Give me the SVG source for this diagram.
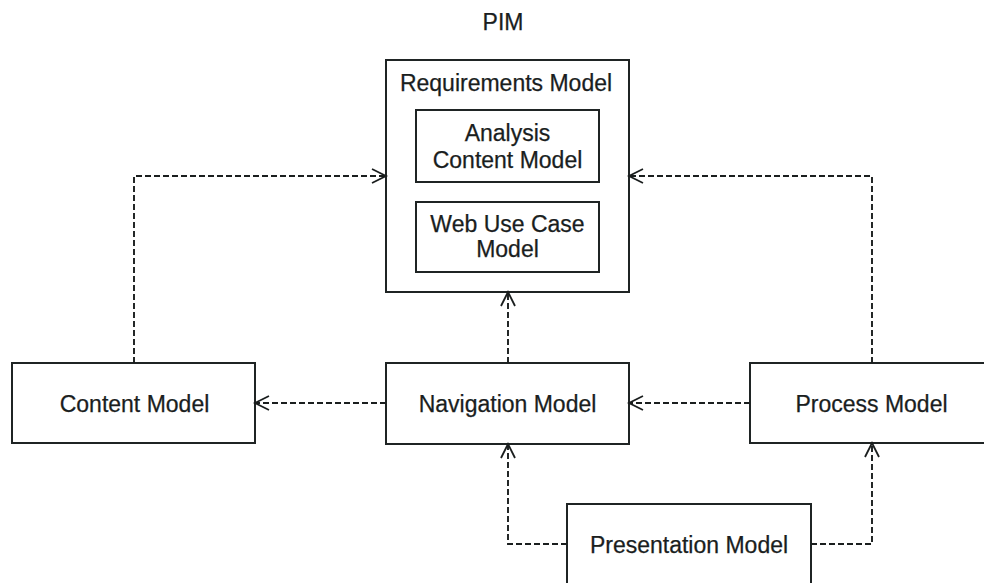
<svg xmlns="http://www.w3.org/2000/svg" width="984" height="583" viewBox="0 0 984 583">
  <style>
    .box { fill: #ffffff; stroke: #1f2424; stroke-width: 2; }
    .lbl { font-family: "Liberation Sans", Arial, sans-serif; font-size: 23px; fill: #1a1e1e; text-anchor: middle; stroke: #1a1e1e; stroke-width: 0.25; }
    .dep { fill: none; stroke: #1a1e1e; stroke-width: 1.9; stroke-dasharray: 6 3; marker-end: url(#open); }
  </style>
  <defs>
    <marker id="open" markerUnits="userSpaceOnUse" markerWidth="18" markerHeight="18" refX="15" refY="8" orient="auto" overflow="visible">
      <path d="M1,1 L15,8 L1,15" fill="none" stroke="#1a1e1e" stroke-width="1.8" stroke-dasharray="none"/>
    </marker>
  </defs>

  <rect width="984" height="583" fill="#ffffff"/>

  <text class="lbl" x="503" y="29.5">PIM</text>

  <g id="requirements-model">
    <rect class="box" x="386" y="60" width="243" height="232"/>
    <text class="lbl" x="506" y="91">Requirements Model</text>
    <g id="analysis-content-model">
      <rect class="box" x="416" y="110" width="183" height="72"/>
      <text class="lbl" x="507.5" y="141">Analysis</text>
      <text class="lbl" x="507.5" y="168">Content Model</text>
    </g>
    <g id="web-use-case-model">
      <rect class="box" x="416" y="202" width="183" height="70"/>
      <text class="lbl" x="507.5" y="232">Web Use Case</text>
      <text class="lbl" x="507.5" y="257">Model</text>
    </g>
  </g>

  <g id="content-model">
    <rect class="box" x="12" y="363" width="243" height="80"/>
    <text class="lbl" x="134.5" y="412">Content Model</text>
  </g>

  <g id="navigation-model">
    <rect class="box" x="386" y="363" width="243" height="81"/>
    <text class="lbl" x="507.5" y="412">Navigation Model</text>
  </g>

  <g id="process-model">
    <rect class="box" x="750" y="363" width="243" height="80"/>
    <text class="lbl" x="871.5" y="412">Process Model</text>
  </g>

  <g id="presentation-model">
    <rect class="box" x="567" y="504" width="244" height="81"/>
    <text class="lbl" x="689" y="553">Presentation Model</text>
  </g>

  <g id="connectors">
    <path class="dep" d="M134,363 V176 H386"/>
    <path class="dep" d="M872,363 V176 H629"/>
    <path class="dep" d="M508,363 V292"/>
    <path class="dep" d="M386,403 H255"/>
    <path class="dep" d="M750,403 H629"/>
    <path class="dep" d="M567,544 H508 V444"/>
    <path class="dep" d="M811,544 H872 V443"/>
  </g>
</svg>
